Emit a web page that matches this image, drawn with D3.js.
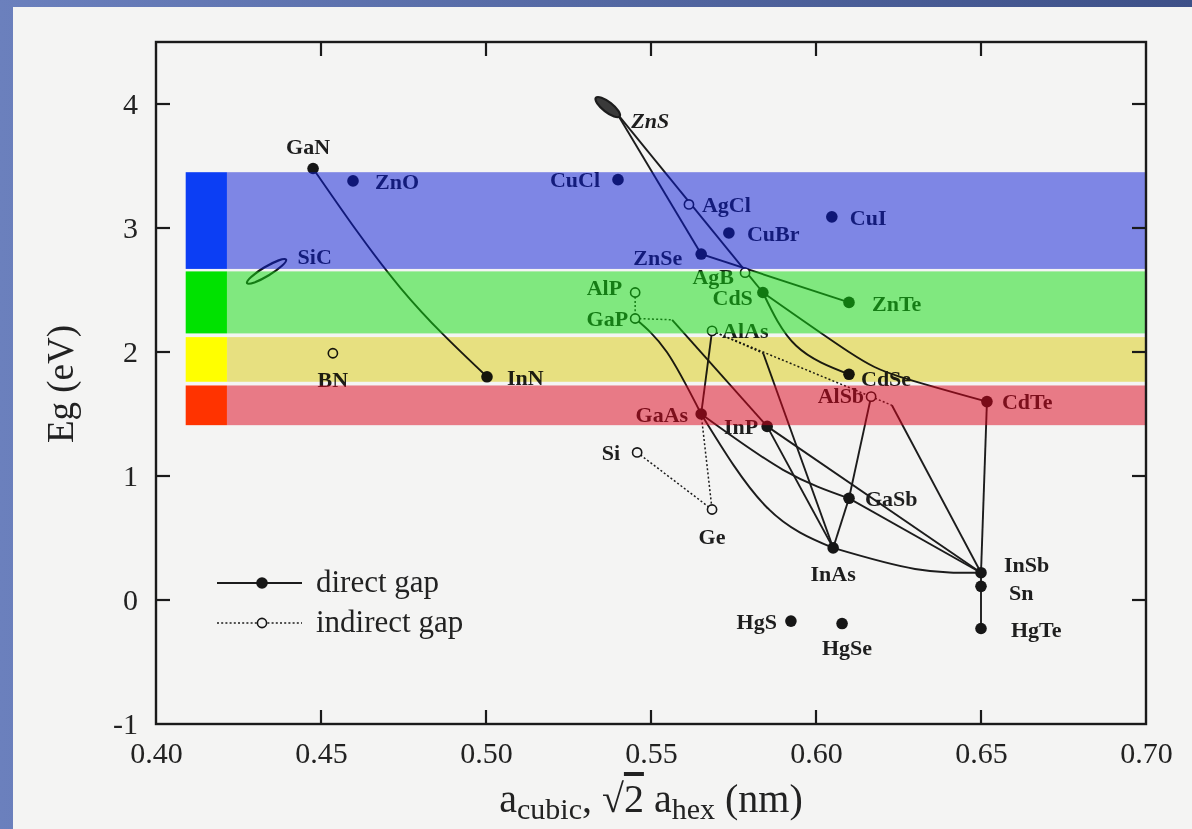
<!DOCTYPE html>
<html><head><meta charset="utf-8">
<script src="https://cdn.jsdelivr.net/npm/d3@7"></script>
<style>
html,body{margin:0;padding:0;background:#fff;}
svg{display:block;}
text{font-family:"Liberation Serif","Times New Roman",serif;}
</style></head>
<body>
<svg id="chart" width="1192" height="829"></svg>
<script>
// ---------------- DATA ----------------
const compounds = ["GaN","ZnO","BN","InN","CuCl","AgCl","CuBr","CuI","ZnSe","AgB","CdS","ZnTe","AlP","GaP","AlAs","CdSe","AlSb","CdTe","GaAs","InP","Si","Ge","GaSb","InAs","InSb","Sn","HgS","HgSe","HgTe"];
const latticeNm = [0.4476,0.4597,0.4536,0.5003,0.5400,0.5615,0.5736,0.6048,0.5652,0.5785,0.5839,0.6100,0.5452,0.5452,0.5685,0.6100,0.6167,0.6518,0.5652,0.5852,0.5458,0.5685,0.6100,0.6052,0.6500,0.6500,0.5924,0.6079,0.6500];
const gapEv     = [3.48,3.38,1.99,1.80,3.39,3.19,2.96,3.09,2.79,2.64,2.48,2.40,2.48,2.27,2.17,1.82,1.64,1.60,1.50,1.40,1.19,0.73,0.82,0.42,0.22,0.11,-0.17,-0.19,-0.23];
const gapType   = ["direct","direct","indirect","direct","direct","indirect","direct","direct","direct","indirect","direct","direct","indirect","indirect","indirect","direct","indirect","direct","direct","direct","indirect","indirect","direct","direct","direct","direct","direct","direct","direct"];

// ZnS (cubic/hex spread) and SiC (polytypes) drawn as elongated blobs
const znsEnds = [[0.5333,4.05],[0.5405,3.90]];
const sicEnds = [[0.4276,2.555],[0.4394,2.745]];

// alloy lines: from, to, intermediate points, style
const linkFrom = ["GaN","ZnS","ZnS","ZnSe","CdS","CdS","CdTe","GaP","AlAs","GaAs","GaAs","InP","GaSb","GaSb","InAs","AlSb","AlSb","GaP","GaPbreak","AlAs","AlAsbreak","InSb","AlP","AlAs","Si","GaAs","InP","AlSbbreak"];
const linkTo   = ["InN","ZnSe","CdS","ZnTe","CdSe","CdTe","InSb","GaAs","GaAs","InAs","GaSb","InAs","InAs","InSb","InSb","GaSb","AlSbbreak","GaPbreak","InP","AlSb","InAs","HgTe","GaP","AlAsbreak","Ge","Ge","InSb","InSb"];
const linkVia  = [[[0.474,2.52]],[],[],[],[[0.594,2.05]],[[0.610,2.0],[0.6255,1.80]],[],[[0.5548,2.0]],[],[[0.585,0.75]],[[0.590,1.05]],[],[],[],[[0.630,0.25]],[],[],[],[],[],[],[],[],[],[],[],[],[]];
const linkStyle= ["solid","solid","solid","solid","solid","solid","solid","solid","solid","solid","solid","solid","solid","solid","solid","solid","dotted","dotted","solid","dotted","solid","solid","dotted","dotted","dotted","dotted","solid","solid"];
const breakNames = ["GaPbreak","AlAsbreak","AlSbbreak"];
const breakPts   = [[0.5564,2.26],[0.5840,1.99],[0.6230,1.57]];

// visible-light bands
const bandColor  = ["blue","green","yellow","red"];
const bandTop    = [3.45,2.65,2.12,1.73];
const bandBottom = [2.67,2.15,1.76,1.41];
const bandXStart = 0.409, bandBlockEnd = 0.4215;

// axes
const xDomain = [0.40,0.70], yDomain = [-1,4.5];
const xTicks = [0.40,0.45,0.50,0.55,0.60,0.65,0.70];
const xTickLabels = ["0.40","0.45","0.50","0.55","0.60","0.65","0.70"];
const yTicks = [-1,0,1,2,3,4];
const yTickLabels = ["-1","0","1","2","3","4"];
const legendLabels = ["direct gap","indirect gap"];

// ---------------- LAYOUT / STYLE ----------------
const M = {left:156, right:1146, top:42, bottom:724};
const blockFill = {blue:"#0c3ef4", green:"#00e200", yellow:"#ffff00", red:"#ff3300"};
const washFill  = {blue:"#0818d8", green:"#0cdc0c", yellow:"#f2eb86", red:"#dc001a"};
const washMode  = {blue:"normal", green:"normal", yellow:"multiply", red:"normal"};
const labelLayout = {
 GaN:[-5,-22,"middle"], ZnO:[22,0,"start"], BN:[0,26,"middle"], InN:[20,0,"start"], CuCl:[-18,0,"end"],
 AgCl:[13,0,"start"], CuBr:[18,0,"start"], CuI:[18,0,"start"], ZnSe:[-19,3,"end"], AgB:[-11,4,"end"],
 CdS:[-10,5,"end"], ZnTe:[23,1,"start"], AlP:[-13,-5,"end"], GaP:[-7,0,"end"], AlAs:[10,-1,"start"],
 CdSe:[12,4,"start"], AlSb:[-7,-1,"end"], CdTe:[15,0,"start"], GaAs:[-13,0,"end"], InP:[-9,0,"end"],
 Si:[-17,0,"end"], Ge:[0,27,"middle"], GaSb:[16,0,"start"], InAs:[0,25,"middle"], InSb:[23,-8,"start"],
 Sn:[28,6,"start"], HgS:[-14,0,"end"], HgSe:[5,24,"middle"], HgTe:[30,1,"start"]
};

const svg = d3.select("#chart");
const x = d3.scaleLinear().domain(xDomain).range([M.left, M.right]);
const y = d3.scaleLinear().domain(yDomain).range([M.bottom, M.top]);

// slide background + paper
const defs = svg.append("defs");
const g1 = defs.append("linearGradient").attr("id","slide").attr("x1",0).attr("y1",0).attr("x2",1).attr("y2",0);
g1.append("stop").attr("offset","0%").attr("stop-color","#6b80bd");
g1.append("stop").attr("offset","100%").attr("stop-color","#3d5088");
svg.append("rect").attr("width",1192).attr("height",829).attr("fill","url(#slide)");
svg.append("rect").attr("x",13).attr("y",7).attr("width",1179).attr("height",822).attr("fill","#f4f4f3");

const pos = {};
compounds.forEach((c,i)=>pos[c]=[latticeNm[i],gapEv[i]]);
breakNames.forEach((b,i)=>pos[b]=breakPts[i]);
pos["ZnS"] = [0.5398,3.92];

const plot = svg.append("g");

// alloy lines
const lineGen = d3.line().x(d=>x(d[0])).y(d=>y(d[1])).curve(d3.curveNatural);
linkFrom.forEach((f,i)=>{
  const pts = [pos[f], ...linkVia[i], pos[linkTo[i]]];
  plot.append("path").attr("d",lineGen(pts)).attr("fill","none")
    .attr("stroke", "#1c1c1c")
    .attr("stroke-width", linkStyle[i]==="solid"?1.9:1.5)
    .attr("stroke-dasharray", linkStyle[i]==="solid"?null:"2,2.2");
});

// blobs
function blob(ends, w, fill){
  const p0=[x(ends[0][0]),y(ends[0][1])], p1=[x(ends[1][0]),y(ends[1][1])];
  const cx=(p0[0]+p1[0])/2, cy=(p0[1]+p1[1])/2;
  const len=Math.hypot(p1[0]-p0[0],p1[1]-p0[1]);
  const ang=Math.atan2(p1[1]-p0[1],p1[0]-p0[0])*180/Math.PI;
  plot.append("ellipse").attr("cx",cx).attr("cy",cy).attr("rx",len/2).attr("ry",w)
    .attr("transform",`rotate(${ang},${cx},${cy})`)
    .attr("fill",fill).attr("stroke","#1c1c1c").attr("stroke-width",2.2);
}
blob(znsEnds,5,"#3a3a3a");
blob(sicEnds,4.5,"none");

// points
compounds.forEach((c,i)=>{
  const direct = gapType[i]==="direct";
  plot.append("circle").attr("cx",x(latticeNm[i])).attr("cy",y(gapEv[i]))
    .attr("r", direct?5.8:4.6)
    .attr("fill", direct?"#161616":"#f4f4f3")
    .attr("stroke","#161616").attr("stroke-width", direct?0:1.6);
});

// labels
compounds.forEach((c,i)=>{
  const L = labelLayout[c];
  plot.append("text").attr("x",x(latticeNm[i])+L[0]).attr("y",y(gapEv[i])+L[1])
    .attr("dy","0.35em").attr("text-anchor",L[2])
    .attr("font-size",22).attr("font-weight","bold").attr("fill","#1e1e1e").text(c);
});
plot.append("text").attr("x",x(0.5398)+14).attr("y",y(3.92)+6).attr("dy","0.35em")
  .attr("font-size",22).attr("font-weight","bold").attr("font-style","italic").attr("fill","#1e1e1e").text("ZnS");
plot.append("text").attr("x",x(0.4335)+31).attr("y",y(2.65)-15).attr("dy","0.35em")
  .attr("font-size",22).attr("font-weight","bold").attr("fill","#1e1e1e").text("SiC");

// colour bands (washes over plot + solid blocks)
bandColor.forEach((b,i)=>{
  svg.append("rect").attr("x",x(bandBlockEnd)).attr("y",y(bandTop[i]))
    .attr("width",x(xDomain[1])-x(bandBlockEnd)).attr("height",y(bandBottom[i])-y(bandTop[i]))
    .attr("fill",washFill[b]).attr("fill-opacity",washMode[b]==="multiply"?1:0.5)
    .style("mix-blend-mode",washMode[b]);
  svg.append("rect").attr("x",x(bandXStart)).attr("y",y(bandTop[i]))
    .attr("width",x(bandBlockEnd)-x(bandXStart)).attr("height",y(bandBottom[i])-y(bandTop[i]))
    .attr("fill",blockFill[b]);
});

// axes frame
const ax = svg.append("g");
ax.append("rect").attr("x",M.left).attr("y",M.top).attr("width",M.right-M.left).attr("height",M.bottom-M.top)
  .attr("fill","none").attr("stroke","#1a1a1a").attr("stroke-width",2.4);
const xAxB = d3.axisBottom(x).tickValues(xTicks).tickSize(0).tickFormat((d,i)=>xTickLabels[i]);
const gxb = ax.append("g").attr("transform",`translate(0,${M.bottom})`).call(xAxB);
gxb.select(".domain").remove();
gxb.selectAll("text").attr("font-size",30).attr("fill","#222").attr("dy","0").attr("y",39)
  .style("font-family","'Liberation Serif',serif");
const tickLen = 14;
xTicks.slice(1,-1).forEach(t=>{
  ax.append("line").attr("x1",x(t)).attr("x2",x(t)).attr("y1",M.bottom).attr("y2",M.bottom-tickLen).attr("stroke","#1a1a1a").attr("stroke-width",2.2);
  ax.append("line").attr("x1",x(t)).attr("x2",x(t)).attr("y1",M.top).attr("y2",M.top+tickLen).attr("stroke","#1a1a1a").attr("stroke-width",2.2);
});
const yAxL = d3.axisLeft(y).tickValues(yTicks).tickSize(0).tickFormat((d,i)=>yTickLabels[i]);
const gyl = ax.append("g").attr("transform",`translate(${M.left},0)`).call(yAxL);
gyl.select(".domain").remove();
gyl.selectAll("text").attr("font-size",30).attr("fill","#222").attr("x",-18)
  .style("font-family","'Liberation Serif',serif");
yTicks.slice(1).forEach(t=>{
  ax.append("line").attr("x1",M.left).attr("x2",M.left+tickLen).attr("y1",y(t)).attr("y2",y(t)).attr("stroke","#1a1a1a").attr("stroke-width",2.2);
  ax.append("line").attr("x1",M.right).attr("x2",M.right-tickLen).attr("y1",y(t)).attr("y2",y(t)).attr("stroke","#1a1a1a").attr("stroke-width",2.2);
});

// axis titles
svg.append("text").attr("transform",`translate(60,384) rotate(-90)`)
  .attr("text-anchor","middle").attr("dy","0.35em").attr("font-size",37).attr("fill","#222").text("Eg (eV)");
const xt = svg.append("text").attr("x",(M.left+M.right)/2).attr("y",812).attr("text-anchor","middle").attr("font-size",40).attr("fill","#222");
xt.append("tspan").text("a");
xt.append("tspan").attr("font-size",30).attr("dy",7).text("cubic");
xt.append("tspan").attr("dy",-7).text(", √");
xt.append("tspan").style("text-decoration","overline").text("2");
xt.append("tspan").text(" a");
xt.append("tspan").attr("font-size",30).attr("dy",7).text("hex");
xt.append("tspan").attr("dy",-7).text(" (nm)");

// legend
const lg = svg.append("g");
legendLabels.forEach((t,i)=>{
  const ly = 583 + i*40;
  lg.append("line").attr("x1",217).attr("x2",302).attr("y1",ly).attr("y2",ly)
    .attr("stroke","#1c1c1c").attr("stroke-width",i?1.5:1.9).attr("stroke-dasharray",i?"2,2.2":null);
  lg.append("circle").attr("cx",262).attr("cy",ly).attr("r",i?4.6:5.8)
    .attr("fill",i?"#f4f4f3":"#161616").attr("stroke","#161616").attr("stroke-width",i?1.6:0);
  lg.append("text").attr("x",316).attr("y",ly).attr("dy","0.3em").attr("font-size",31).attr("fill","#222").text(t);
});
</script>
</body></html>
